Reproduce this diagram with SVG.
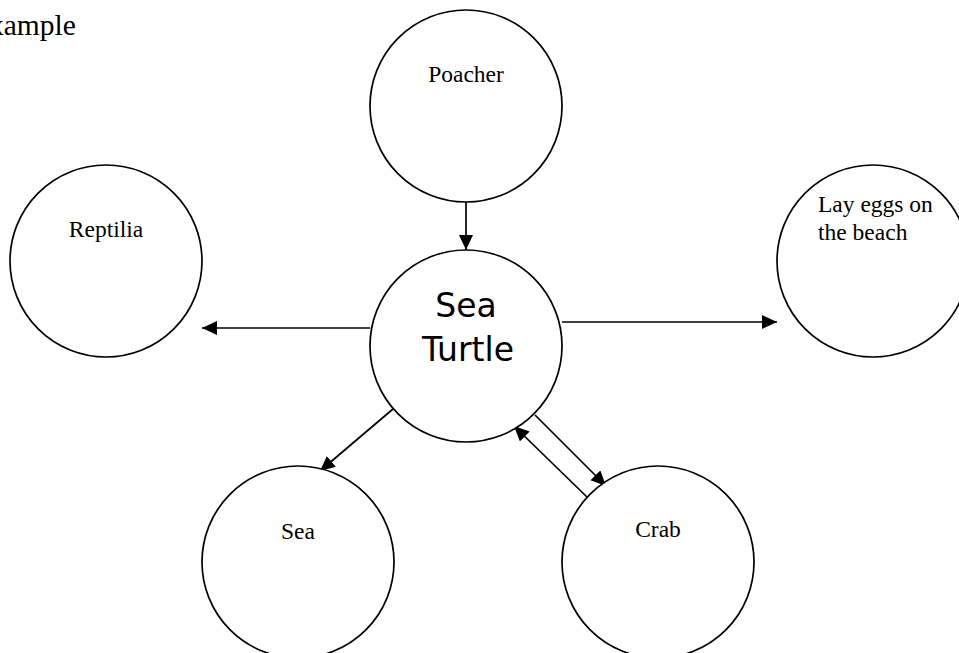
<svg xmlns="http://www.w3.org/2000/svg" width="959" height="653" viewBox="0 0 959 653">
  <style>
    .node { fill: #ffffff; stroke: #000000; stroke-width: 1.7; }
    .lbl { font-family: "Liberation Serif", "Times New Roman", serif; font-size: 23.5px; fill: #000000; }
    .center-lbl { font-family: "DejaVu Sans", Verdana, sans-serif; font-size: 33px; fill: #000000; text-anchor: middle; }
    .edge { stroke: #000000; stroke-width: 1.7; fill: none; marker-end: url(#arrow); }
  </style>
  <defs>
    <marker id="arrow" markerUnits="userSpaceOnUse" markerWidth="16" markerHeight="15" refX="15" refY="7" orient="auto">
      <path d="M0,0 L15,7 L0,14 z" fill="#000000"/>
    </marker>
  </defs>

  <rect width="959" height="653" fill="#ffffff"/>

  <!-- page heading, running off the left edge -->
  <text x="-29" y="35" font-family="Liberation Serif, serif" font-size="29.5" fill="#000000">Example</text>

  <g id="connectors">
    <line class="edge" x1="466" y1="202" x2="466" y2="250"/>
    <line class="edge" x1="370" y1="328" x2="202" y2="328"/>
    <line class="edge" x1="562" y1="322" x2="777" y2="322"/>
    <line class="edge" x1="393" y1="409" x2="320" y2="471"/>
    <line class="edge" x1="587" y1="497" x2="514" y2="426"/>
    <line class="edge" x1="535" y1="415" x2="606" y2="486"/>
  </g>

  <g id="poacher">
    <circle class="node" cx="466" cy="106" r="96"/>
    <text class="lbl" x="466" y="82" text-anchor="middle">Poacher</text>
  </g>

  <g id="reptilia">
    <circle class="node" cx="106" cy="261" r="96"/>
    <text class="lbl" x="106" y="237" text-anchor="middle">Reptilia</text>
  </g>

  <g id="sea-turtle">
    <circle class="node" cx="466" cy="346" r="96"/>
    <text class="center-lbl" x="466" y="317">Sea</text>
    <text class="center-lbl" x="468" y="361">Turtle</text>
  </g>

  <g id="lay-eggs">
    <circle class="node" cx="873" cy="261" r="96"/>
    <text class="lbl" x="818" y="212">Lay eggs on</text>
    <text class="lbl" x="818" y="240">the beach</text>
  </g>

  <g id="sea">
    <circle class="node" cx="298" cy="562" r="96"/>
    <text class="lbl" x="298" y="539" text-anchor="middle">Sea</text>
  </g>

  <g id="crab">
    <circle class="node" cx="658" cy="562" r="96"/>
    <text class="lbl" x="658" y="537" text-anchor="middle">Crab</text>
  </g>
</svg>
